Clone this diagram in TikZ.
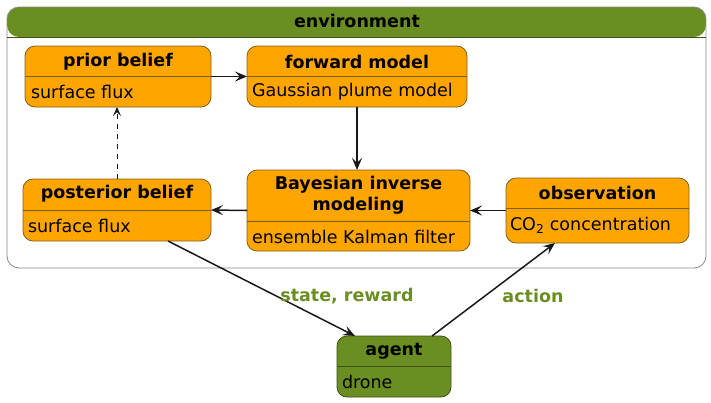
\documentclass[tikz,border=0pt]{standalone}
\usepackage{fontspec}
\setmainfont{DejaVu Sans}
\usetikzlibrary{arrows.meta}
\definecolor{envgreen}{HTML}{6B8E23}
\definecolor{envline}{HTML}{3D5214}
\definecolor{stateorange}{HTML}{FFA500}
\definecolor{stateline}{HTML}{7F5F1F}
\definecolor{frameline}{HTML}{888888}
\definecolor{ink}{HTML}{181818}
\begin{document}
\begin{tikzpicture}[x=1pt,y=-1pt,
  every node/.style={inner sep=0pt, outer sep=0pt},
  statebox/.style={draw=stateline, fill=stateorange, rounded corners=10pt, line width=0.8pt},
  agentbox/.style={draw=envline, fill=envgreen, rounded corners=10pt, line width=0.8pt},
  ttl/.style={font=\fontsize{17.5}{21}\selectfont\bfseries, align=center},
  bdy/.style={font=\fontsize{17.5}{21}\selectfont, anchor=west},
  lbl/.style={font=\fontsize{17.5}{21}\selectfont\bfseries, text=envgreen},
  conn/.style={draw=ink, line width=1.5pt, -{Stealth[length=12pt,width=10pt,inset=5pt]}},
  dconn/.style={draw=ink, line width=0.9pt, dashed, dash pattern=on 5pt off 5pt, -{Stealth[length=9pt,width=8pt,inset=4pt]}}
]
\useasboundingbox (0,0) rectangle (711,402);

% environment frame
\node[draw=frameline, rounded corners=12pt, line width=0.8pt, minimum width=699pt, minimum height=261pt,
  path picture={\fill[envgreen] (path picture bounding box.north west) rectangle ([yshift=-30pt]path picture bounding box.north east);}]
  (env) at (356.5,137.5) {};
\draw[envline, line width=0.8pt] (env.west |- 0,37) -- (env.east |- 0,37);
\node[ttl] (envtitle) at (357,21) {environment};

% prior belief
\node[statebox, minimum width=186pt, minimum height=61pt] (prior) at (118,76.5) {};
\draw[stateline, line width=0.8pt] (prior.west |- 0,76.5) -- (prior.east |- 0,76.5);
\node[ttl] (priort) at (118,62) {prior belief};
\node[bdy] (priorb) at (31,92) {surface flux};

% forward model
\node[statebox, minimum width=220pt, minimum height=61pt] (fwd) at (357,76.5) {};
\draw[stateline, line width=0.8pt] (fwd.west |- 0,76.5) -- (fwd.east |- 0,76.5);
\node[ttl] (fwdt) at (357,62) {forward model};
\node[bdy] (fwdb) at (252,92) {Gaussian plume model};

% Bayesian inverse modeling
\node[statebox, minimum width=223pt, minimum height=81pt] (bayes) at (358.5,210.5) {};
\draw[stateline, line width=0.8pt] (bayes.west |- 0,221) -- (bayes.east |- 0,221);
\node[ttl] (bayest) at (358.5,195.5) {Bayesian inverse\\modeling};
\node[bdy] (bayesb) at (252,237) {ensemble Kalman filter};

% posterior belief
\node[statebox, minimum width=188pt, minimum height=62pt] (post) at (117,210) {};
\draw[stateline, line width=0.8pt] (post.west |- 0,210.5) -- (post.east |- 0,210.5);
\node[ttl] (postt) at (117,194) {posterior belief};
\node[bdy] (postb) at (28,226) {surface flux};

% observation
\node[statebox, minimum width=183pt, minimum height=65pt] (obs) at (597.5,210.5) {};
\draw[stateline, line width=0.8pt] (obs.west |- 0,208) -- (obs.east |- 0,208);
\node[ttl] (obst) at (597.5,193) {observation};
\node[bdy] (obsb) at (510,225) {CO\textsubscript{2} concentration};

% agent
\node[agentbox, minimum width=114pt, minimum height=61pt] (agent) at (394,366.5) {};
\draw[envline, line width=0.8pt] (agent.west |- 0,366.5) -- (agent.east |- 0,366.5);
\node[ttl] (agentt) at (394,351) {agent};
\node[bdy] (agentb) at (342,382) {drone};

% connectors
\draw[conn] (prior.east) -- (fwd.west);
\draw[conn] (fwd.south) -- (fwd.south |- bayes.north);
\draw[conn] (bayes.west) -- (post.east);
\draw[conn] (obs.west) -- (bayes.east);
\draw[dconn] (post.north) -- (post.north |- prior.south);
\draw[conn] ([xshift=51pt]post.south) -- ([xshift=-39pt]agent.north);
\draw[conn] ([xshift=38pt]agent.north) -- ([xshift=-42.5pt]obs.south);

% labels
\node[lbl] (lsr) at (347,296) {state, reward};
\node[lbl] (lact) at (533,296) {action};
\end{tikzpicture}
\end{document}
